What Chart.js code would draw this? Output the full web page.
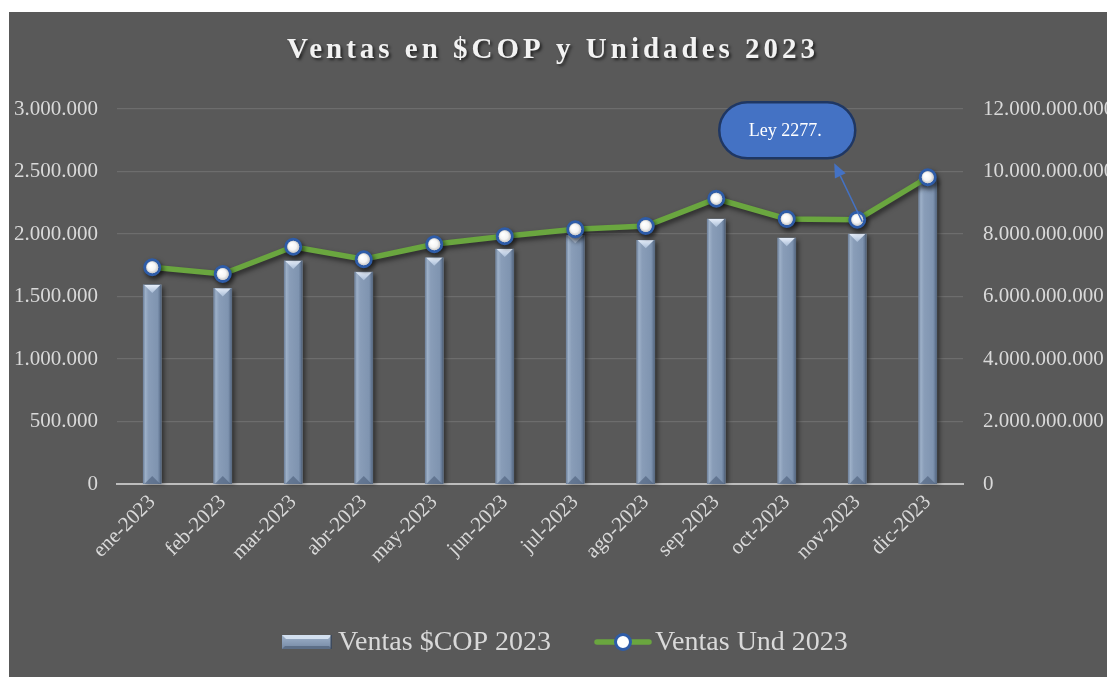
<!DOCTYPE html>
<html lang="es">
<head>
<meta charset="utf-8">
<title>Ventas en $COP y Unidades 2023</title>
<script src="https://cdn.jsdelivr.net/npm/chart.js@4.4.1/dist/chart.umd.min.js"></script>
<style>
  html, body { margin: 0; padding: 0; background: #fff; overflow: hidden; }
  #wrap { position: absolute; left: 9px; top: 12px; width: 1098px; height: 665px; background: #595959; }
</style>
</head>
<body>
<div id="wrap"><canvas id="ventasChart" width="1098" height="665"></canvas></div>
<script>
// datos
const meses = ['ene-2023', 'feb-2023', 'mar-2023', 'abr-2023', 'may-2023', 'jun-2023',
               'jul-2023', 'ago-2023', 'sep-2023', 'oct-2023', 'nov-2023', 'dic-2023'];
const ventasCop = [6370000000, 6260000000, 7140000000, 6780000000, 7240000000, 7520000000,
                   7960000000, 7800000000, 8480000000, 7870000000, 8000000000, 9760000000];
const ventasUnd = [1734000, 1680000, 1898000, 1798000, 1918000, 1982000,
                   2038000, 2064000, 2282000, 2120000, 2114000, 2454000];
const ticksUnd = [0, 500000, 1000000, 1500000, 2000000, 2500000, 3000000];
const ticksCop = [0, 2000000000, 4000000000, 6000000000, 8000000000, 10000000000, 12000000000];
const titulo = 'Ventas en $COP y Unidades 2023';
const nota = 'Ley 2277.';
const notaMes = 10; // nov-2023

const SERIF = "'Liberation Serif', 'Times New Roman', serif";
const TXT = '#d9d9d9';

const puntos = (n) => String(n).replace(/\B(?=(\d{3})+(?!\d))/g, '.');

function drawBarBevel(ctx, el) {
  const w = el.width, l = el.x - w / 2, r = l + w, t = el.y, b = el.base;
  const g = ctx.createLinearGradient(l, 0, r, 0);
  g.addColorStop(0, '#6d809a');
  g.addColorStop(0.12, '#9db0c8');
  g.addColorStop(0.3, '#899db8');
  g.addColorStop(0.8, '#7f94b0');
  g.addColorStop(0.92, '#657995');
  g.addColorStop(1, '#4b5b71');
  ctx.fillStyle = g;
  ctx.fillRect(l, t, w, b - t);
  const tg = ctx.createLinearGradient(0, t, 0, t + w * 0.45);
  tg.addColorStop(0, '#e6eefa');
  tg.addColorStop(1, '#a8bcd6');
  ctx.fillStyle = tg;
  ctx.beginPath();
  ctx.moveTo(l + 1, t); ctx.lineTo(r - 1, t); ctx.lineTo(el.x, t + w * 0.45);
  ctx.closePath(); ctx.fill();
  ctx.fillStyle = 'rgba(70,88,115,0.55)';
  ctx.beginPath();
  ctx.moveTo(l + 1, b); ctx.lineTo(r - 1, b); ctx.lineTo(el.x, b - w * 0.45);
  ctx.closePath(); ctx.fill();
}

function drawLegendBar(ctx, l, t, w, h) {
  const g = ctx.createLinearGradient(0, t, 0, t + h);
  g.addColorStop(0, '#9fb2ca');
  g.addColorStop(1, '#7589a5');
  ctx.fillStyle = g;
  ctx.fillRect(l, t, w, h);
  ctx.fillStyle = '#d3e0f0';
  ctx.beginPath();
  ctx.moveTo(l, t); ctx.lineTo(l + w, t); ctx.lineTo(l + w - 4, t + 4); ctx.lineTo(l + 4, t + 4);
  ctx.closePath(); ctx.fill();
  ctx.fillStyle = '#5d6f88';
  ctx.beginPath();
  ctx.moveTo(l, t + h); ctx.lineTo(l + w, t + h); ctx.lineTo(l + w - 3, t + h - 3); ctx.lineTo(l + 3, t + h - 3);
  ctx.closePath(); ctx.fill();
  ctx.fillStyle = '#3e4a5c';
  ctx.fillRect(l + w - 1.5, t, 1.5, h);
}

const decoPlugin = {
  id: 'deco',
  beforeDatasetDraw(chart, args) {
    const ctx = chart.ctx;
    if (args.meta.type === 'bar') {
      ctx.save();
      ctx.fillStyle = 'rgba(0,0,0,0.45)';
      ctx.filter = 'blur(2px)';
      args.meta.data.forEach((el) => {
        ctx.fillRect(el.x - el.width / 2 + 3, el.y + 2, el.width, el.base - el.y - 2);
      });
      ctx.restore();
    } else {
      ctx.save();
      ctx.shadowColor = 'rgba(0,0,0,0.55)';
      ctx.shadowBlur = 5; ctx.shadowOffsetX = 2; ctx.shadowOffsetY = 3;
    }
  },
  afterDatasetDraw(chart, args) {
    const ctx = chart.ctx;
    if (args.meta.type === 'bar') {
      ctx.save();
      args.meta.data.forEach((el) => drawBarBevel(ctx, el));
      ctx.restore();
    } else {
      ctx.restore();
      ctx.save();
      args.meta.data.forEach((el) => {
        const rg = ctx.createRadialGradient(el.x - 2, el.y - 2, 1, el.x, el.y, 6);
        rg.addColorStop(0, '#ffffff');
        rg.addColorStop(0.6, '#f4f4f4');
        rg.addColorStop(1, '#c9c9c9');
        ctx.fillStyle = rg;
        ctx.beginPath(); ctx.arc(el.x, el.y, 6, 0, Math.PI * 2); ctx.fill();
      });
      ctx.restore();
    }
  },
  afterDraw(chart) {
    const ctx = chart.ctx;
    const xs = chart.scales.x, ys = chart.scales.y;

    // titulo
    ctx.save();
    ctx.font = `bold 29px ${SERIF}`;
    ctx.letterSpacing = '4px';
    ctx.textAlign = 'center'; ctx.textBaseline = 'middle';
    ctx.shadowColor = 'rgba(0,0,0,0.6)'; ctx.shadowBlur = 3; ctx.shadowOffsetX = 2; ctx.shadowOffsetY = 2;
    ctx.fillStyle = '#f2f2f2';
    ctx.fillText(titulo, 544, 39);
    ctx.restore();

    // nota con flecha
    const ax = xs.getPixelForValue(notaMes), ay = ys.getPixelForValue(ventasUnd[notaMes]);
    ctx.save();
    const bx = ax - 138, by = ay - 117.5, bw = 136, bh = 56, rr = 28;
    ctx.beginPath();
    ctx.roundRect(bx, by, bw, bh, rr);
    ctx.fillStyle = '#4472c4'; ctx.fill();
    ctx.lineWidth = 2.5; ctx.strokeStyle = '#1f3763'; ctx.stroke();
    ctx.font = `18px ${SERIF}`;
    ctx.fillStyle = '#ffffff'; ctx.textAlign = 'center'; ctx.textBaseline = 'middle';
    ctx.fillText(nota, bx + bw / 2 - 2, by + bh / 2 + 1);
    const sx = ax + 5, sy = ay + 2;
    const tx = ax - 23, ty = ay - 56.5;
    const dx = tx - sx, dy = ty - sy, len = Math.hypot(dx, dy), ux = dx / len, uy = dy / len;
    const hx = tx - ux * 14, hy = ty - uy * 14;
    ctx.strokeStyle = '#4472c4'; ctx.lineWidth = 1.5;
    ctx.beginPath(); ctx.moveTo(sx, sy); ctx.lineTo(hx, hy); ctx.stroke();
    ctx.fillStyle = '#4472c4';
    ctx.beginPath();
    ctx.moveTo(tx, ty);
    ctx.lineTo(hx - uy * 6, hy + ux * 6);
    ctx.lineTo(hx + uy * 6, hy - ux * 6);
    ctx.closePath(); ctx.fill();
    ctx.restore();

    // leyenda
    const cy = 630;
    ctx.save();
    drawLegendBar(ctx, 273, cy - 7, 50, 14);
    ctx.strokeStyle = '#6aa63f'; ctx.lineWidth = 5.5; ctx.lineCap = 'round';
    ctx.beginPath(); ctx.moveTo(588, cy); ctx.lineTo(640, cy); ctx.stroke();
    ctx.beginPath(); ctx.arc(614, cy, 7.5, 0, Math.PI * 2);
    ctx.fillStyle = '#ffffff'; ctx.fill();
    ctx.lineWidth = 3; ctx.strokeStyle = '#2e5ca8'; ctx.stroke();
    ctx.font = `28px ${SERIF}`;
    ctx.fillStyle = TXT; ctx.textAlign = 'left'; ctx.textBaseline = 'middle';
    ctx.fillText(chart.data.datasets[1].label, 329, cy + 1);
    ctx.fillText(chart.data.datasets[0].label, 646, cy + 1);
    ctx.restore();
  },
};

const tickFont = { family: SERIF, size: 21 };

new Chart(document.getElementById('ventasChart'), {
  type: 'bar',
  data: {
    labels: meses,
    datasets: [
      {
        type: 'line', label: 'Ventas Und 2023', data: ventasUnd, yAxisID: 'y', order: 0,
        borderColor: '#6aa63f', borderWidth: 5.5, tension: 0,
        pointRadius: 7.5, pointBorderWidth: 3, pointBorderColor: '#2e5ca8', pointBackgroundColor: '#ffffff',
      },
      {
        type: 'bar', label: 'Ventas $COP 2023', data: ventasCop, yAxisID: 'y1', order: 1,
        backgroundColor: '#8497b0', barThickness: 18,
      },
    ],
  },
  options: {
    responsive: false,
    animation: false,
    layout: { padding: { top: 97, left: 0, right: 0, bottom: 0 } },
    plugins: { legend: { display: false }, tooltip: { enabled: false }, title: { display: false } },
    scales: {
      x: {
        grid: { display: false, drawTicks: false },
        border: { display: true, color: '#bdbdbd', width: 2 },
        ticks: { color: TXT, font: tickFont, maxRotation: 45, minRotation: 45, padding: 6 },
        afterFit(s) { s.height = 193; },
      },
      y: {
        position: 'left', min: 0, max: 3000000,
        grid: { color: '#6d6d6d', lineWidth: 1.3, drawTicks: false },
        border: { display: false },
        ticks: { color: TXT, font: tickFont, padding: 19, callback: (v) => puntos(v) },
        afterBuildTicks(s) { s.ticks = ticksUnd.map((v) => ({ value: v })); },
        afterFit(s) { s.width = 108; },
      },
      y1: {
        position: 'right', min: 0, max: 12000000000,
        grid: { display: false, drawTicks: false },
        border: { display: false },
        ticks: { color: TXT, font: tickFont, padding: 20, callback: (v) => puntos(v) },
        afterBuildTicks(s) { s.ticks = ticksCop.map((v) => ({ value: v })); },
        afterFit(s) { s.width = 144; },
      },
    },
  },
  plugins: [decoPlugin],
});
</script>
</body>
</html>
